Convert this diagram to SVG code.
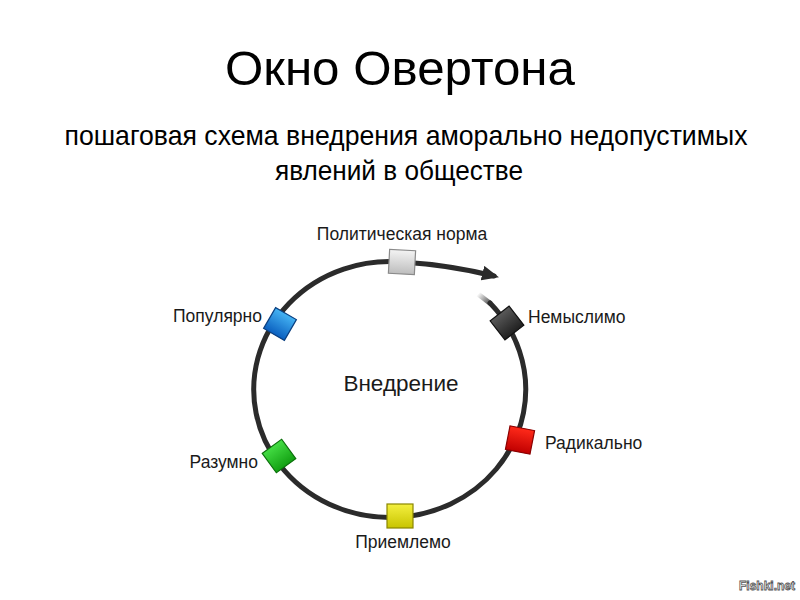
<svg xmlns="http://www.w3.org/2000/svg" width="800" height="600" viewBox="0 0 800 600">
<style>
.lbl{font-family:"Liberation Sans",Arial,sans-serif;font-size:17.5px;fill:#1a1a1a}
.big{font-size:22.5px}
.ttl{font-family:"Liberation Sans",Arial,sans-serif;fill:#000}
.ring{fill:none;stroke:#2b2b2b;stroke-width:5;stroke-linecap:round}
.sq{stroke-width:1.2}
</style>
<defs>
<marker id="ah" viewBox="0 0 10 10" refX="7" refY="5" markerWidth="17" markerHeight="15" orient="auto" markerUnits="userSpaceOnUse" preserveAspectRatio="none">
<path d="M0 0 L10 5 L0 10 Z" fill="#2b2b2b"/>
</marker>
<linearGradient id="fade" x1="478" y1="294" x2="492" y2="306" gradientUnits="userSpaceOnUse">
<stop offset="0" stop-color="#2b2b2b" stop-opacity="0"/>
<stop offset="1" stop-color="#2b2b2b" stop-opacity="1"/>
</linearGradient>
<linearGradient id="gGray" x1="0" y1="0" x2="0" y2="1"><stop offset="0" stop-color="#f4f4f4"/><stop offset="1" stop-color="#bdbdbd"/></linearGradient>
<linearGradient id="gBlack" x1="0" y1="0" x2="0" y2="1"><stop offset="0" stop-color="#5a5a5a"/><stop offset="1" stop-color="#202020"/></linearGradient>
<linearGradient id="gBlue" x1="0" y1="0" x2="0" y2="1"><stop offset="0" stop-color="#45b4f4"/><stop offset="1" stop-color="#0a5fbf"/></linearGradient>
<linearGradient id="gRed" x1="0" y1="0" x2="0" y2="1"><stop offset="0" stop-color="#ff2a1a"/><stop offset="1" stop-color="#c00000"/></linearGradient>
<linearGradient id="gYellow" x1="0" y1="0" x2="0" y2="1"><stop offset="0" stop-color="#f4f040"/><stop offset="1" stop-color="#c8c400"/></linearGradient>
<linearGradient id="gGreen" x1="0" y1="0" x2="0" y2="1"><stop offset="0" stop-color="#44dd44"/><stop offset="1" stop-color="#12a012"/></linearGradient>
</defs>
<rect width="800" height="600" fill="#fff"/>
<g id="title">
<text class="ttl" x="400" y="85" font-size="49" text-anchor="middle" textLength="350" lengthAdjust="spacingAndGlyphs">Окно Овертона</text>
<text class="ttl" x="406" y="145" font-size="28" text-anchor="middle" textLength="683" lengthAdjust="spacingAndGlyphs">пошаговая схема внедрения аморально недопустимых</text>
<text class="ttl" x="399" y="180" font-size="28" text-anchor="middle" textLength="248" lengthAdjust="spacingAndGlyphs">явлений в обществе</text>
</g>
<g id="connectors">
<path class="ring" d="M 490 303 A 136 128 0 1 1 402 262"/>
<path class="ring" d="M 402 262 Q 450 265 494 276" marker-end="url(#ah)"/>
<path d="M 478 294 L 491 304" fill="none" stroke="url(#fade)" stroke-width="5"/>
</g>
<g id="center"><text class="lbl big" x="401" y="391" text-anchor="middle">Внедрение</text></g>
<g id="n-politnorm">
<rect class="sq" x="-13" y="-12" width="26" height="24" fill="url(#gGray)" stroke="#8a8a8a" transform="translate(402 262) rotate(3)"/>
<text class="lbl" x="402" y="240" text-anchor="middle">Политическая норма</text>
</g>
<g id="n-nemyslimo">
<rect class="sq" x="-12" y="-12" width="24" height="24" fill="url(#gBlack)" stroke="#111" transform="translate(507 323) rotate(-38)"/>
<text class="lbl" x="528" y="323">Немыслимо</text>
</g>
<g id="n-radikalno">
<rect class="sq" x="-12.5" y="-12" width="25" height="24" fill="url(#gRed)" stroke="#8a0000" transform="translate(520 440) rotate(11)"/>
<text class="lbl" x="545" y="449">Радикально</text>
</g>
<g id="n-priemlemo">
<rect class="sq" x="-13" y="-12" width="26" height="24" fill="url(#gYellow)" stroke="#8a8600" transform="translate(400 516)"/>
<text class="lbl" x="403" y="548" text-anchor="middle">Приемлемо</text>
</g>
<g id="n-razumno">
<rect class="sq" x="-12" y="-12" width="24" height="24" fill="url(#gGreen)" stroke="#0a700a" transform="translate(279 456) rotate(-36)"/>
<text class="lbl" x="258" y="468" text-anchor="end">Разумно</text>
</g>
<g id="n-populyarno">
<rect class="sq" x="-12" y="-12" width="24" height="24" fill="url(#gBlue)" stroke="#0a3f80" transform="translate(280 324) rotate(30)"/>
<text class="lbl" x="262" y="322" text-anchor="end">Популярно</text>
</g>
<g id="watermark">
<text x="795" y="590" text-anchor="end" font-family="Liberation Sans,Arial,sans-serif" font-size="12" font-weight="bold" fill="#fff" stroke="#555" stroke-width="0.8">Fishki.net</text>
</g>
</svg>
